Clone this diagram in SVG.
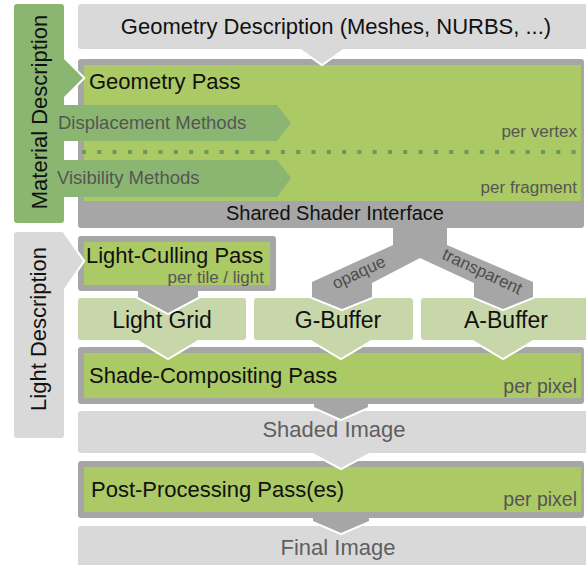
<svg xmlns="http://www.w3.org/2000/svg" width="586" height="565" viewBox="0 0 586 565">
  <style>
    text { font-family: "Liberation Sans", Arial, sans-serif; }
    .lg { fill: #d9d9d9; }
    .gr { fill: #a6a6a6; }
    .gn { fill: #abc964; }
    .lgn { fill: #c8d7aa; }
    .tab { fill: #8bb672; }
    .halo { fill: none; stroke: #ffffff; stroke-width: 4; stroke-linejoin: miter; }
    .t22 { font-size: 22px; fill: #111111; }
    .t23 { font-size: 23px; fill: #111111; text-anchor: middle; }
    .dim { font-size: 22px; fill: #5f5f5f; text-anchor: middle; }
    .sub { font-size: 17px; fill: #555555; text-anchor: end; }
    .px { font-size: 19.5px; fill: #555555; text-anchor: end; }
    .band { font-size: 18.5px; fill: #555555; }
    .branch { font-size: 17px; fill: #4d4d4d; text-anchor: middle; }
  </style>
  <rect width="586" height="565" fill="#ffffff"/>

  <!-- Input geometry -->
  <g id="geometry-description">
    <rect x="78" y="4" width="512" height="45" rx="3" class="lg"/>
    <text x="336" y="34" class="t22" text-anchor="middle">Geometry Description (Meshes, NURBS, ...)</text>
  </g>

  <!-- Geometry pass with its shader stages -->
  <g id="geometry-pass">
    <rect x="78" y="59" width="506" height="169" rx="3" class="gr"/>
    <rect x="84" y="65" width="497" height="136" class="gn"/>
    <text x="89" y="89" class="t22">Geometry Pass</text>
    <text x="577" y="137" class="sub">per vertex</text>
    <text x="577" y="193" class="sub">per fragment</text>
    <line x1="82" y1="152" x2="581" y2="152" stroke="#6a9a55" stroke-width="4" stroke-dasharray="4 11.3"/>
    <text x="335" y="220" font-size="20" fill="#111111" text-anchor="middle">Shared Shader Interface</text>
  </g>

  <g id="material-description">
    <polyline points="64,59 83,78 64,97" class="halo"/>
    <path d="M17,4 H61 Q64,4 64,7 V59 L83,78 L64,97 V220 Q64,223 61,223 H17 Q14,223 14,220 V7 Q14,4 17,4 Z" class="tab"/>
    <text transform="translate(47,112) rotate(-90)" class="t22" text-anchor="middle">Material Description</text>
  </g>

  <g id="displacement-methods">
    <polygon points="60,105 277,105 291,123 277,141 60,141" class="tab"/>
    <text x="58" y="129" class="band">Displacement Methods</text>
  </g>

  <g id="visibility-methods">
    <polygon points="60,160 277,160 291,178 277,197 60,197" class="tab"/>
    <text x="57" y="184" class="band">Visibility Methods</text>
  </g>

  <!-- Lighting -->
  <g id="light-culling-pass">
    <rect x="78" y="236" width="198" height="55" rx="3" class="gr"/>
    <rect x="84" y="242" width="186" height="43" class="gn"/>
    <text x="86" y="263" class="t22">Light-Culling Pass</text>
    <text x="264" y="283" class="sub">per tile / light</text>
  </g>

  <g id="light-description">
    <polyline points="64,234 83,261 64,289" class="halo"/>
    <path d="M17,232 H61 Q64,232 64,234 L83,261 L64,289 V435 Q64,438 61,438 H17 Q14,438 14,435 V235 Q14,232 17,232 Z" class="lg"/>
    <text transform="translate(46,329) rotate(-90)" class="t22" text-anchor="middle">Light Description</text>
  </g>

  <!-- Intermediate buffers -->
  <g id="light-grid">
    <rect x="78" y="298" width="168" height="42" rx="3" class="lgn"/>
    <text x="162" y="328" class="t23">Light Grid</text>
  </g>

  <g id="g-buffer">
    <rect x="254" y="298" width="159" height="42" rx="3" class="lgn"/>
    <text x="338" y="328" class="t23">G-Buffer</text>
  </g>

  <g id="a-buffer">
    <rect x="421" y="298" width="170" height="42" rx="3" class="lgn"/>
    <text x="506" y="328" class="t23">A-Buffer</text>
  </g>

  <!-- Shading and output -->
  <g id="shade-compositing-pass">
    <rect x="78" y="347" width="506" height="57" rx="3" class="gr"/>
    <rect x="84" y="353" width="497" height="45" class="gn"/>
    <text x="89" y="383" class="t22">Shade-Compositing Pass</text>
    <text x="577" y="393" class="px">per pixel</text>
  </g>

  <g id="shaded-image">
    <rect x="78" y="411" width="512" height="42" rx="3" class="lg"/>
    <text x="334" y="437" class="dim">Shaded Image</text>
  </g>

  <g id="post-processing-pass">
    <rect x="78" y="461" width="506" height="57" rx="3" class="gr"/>
    <rect x="84" y="467" width="497" height="45" class="gn"/>
    <text x="91" y="497" class="t22">Post-Processing Pass(es)</text>
    <text x="577" y="506" class="px">per pixel</text>
  </g>

  <g id="final-image">
    <rect x="78" y="526" width="512" height="45" rx="3" class="lg"/>
    <text x="338" y="555" class="dim">Final Image</text>
  </g>

  <!-- Flow arrows -->
  <g id="connectors">
    <polyline points="304,51 322,64 340,51" class="halo"/>
    <polygon points="301,49 343,49 322,64" class="lg"/>

    <polyline points="312,290 312,297 342,309 372,297 372,290" class="halo"/>
    <polyline points="474,290 474,297 503,309 533,297 533,290" class="halo"/>
    <polygon points="393,226 447,226 447,245 533,282 533,297 503,309 474,297 474,283 420,258 372,283 372,297 342,309 312,297 312,282 393,245" class="gr"/>
    <text transform="translate(359,273) rotate(-25)" y="5" class="branch">opaque</text>
    <text transform="translate(482,272) rotate(25)" y="5" class="branch">transparent</text>

    <polyline points="138,293 138,297 168,313 198,297 198,293" class="halo"/>
    <polygon points="138,289 198,289 198,297 168,313 138,297" class="gr"/>

    <polyline points="141.3,342 168,358 194.7,342" class="halo"/>
    <polygon points="138,340 198,340 168,358" class="lgn"/>
    <polyline points="314.3,342 341,358 367.7,342" class="halo"/>
    <polygon points="311,340 371,340 341,358" class="lgn"/>
    <polyline points="476.3,342 503,358 529.7,342" class="halo"/>
    <polygon points="473,340 533,340 503,358" class="lgn"/>

    <polyline points="314,405 314,407 341,419 368,407 368,405" class="halo"/>
    <polygon points="314,402 368,402 368,407 341,419 314,407" class="gr"/>

    <polyline points="316.7,455 341,468 365.3,455" class="halo"/>
    <polygon points="313,453 369,453 341,468" class="lg"/>

    <polyline points="313,519 313,521 341,533 369,521 369,519" class="halo"/>
    <polygon points="313,516 369,516 369,521 341,533 313,521" class="gr"/>
  </g>
</svg>
